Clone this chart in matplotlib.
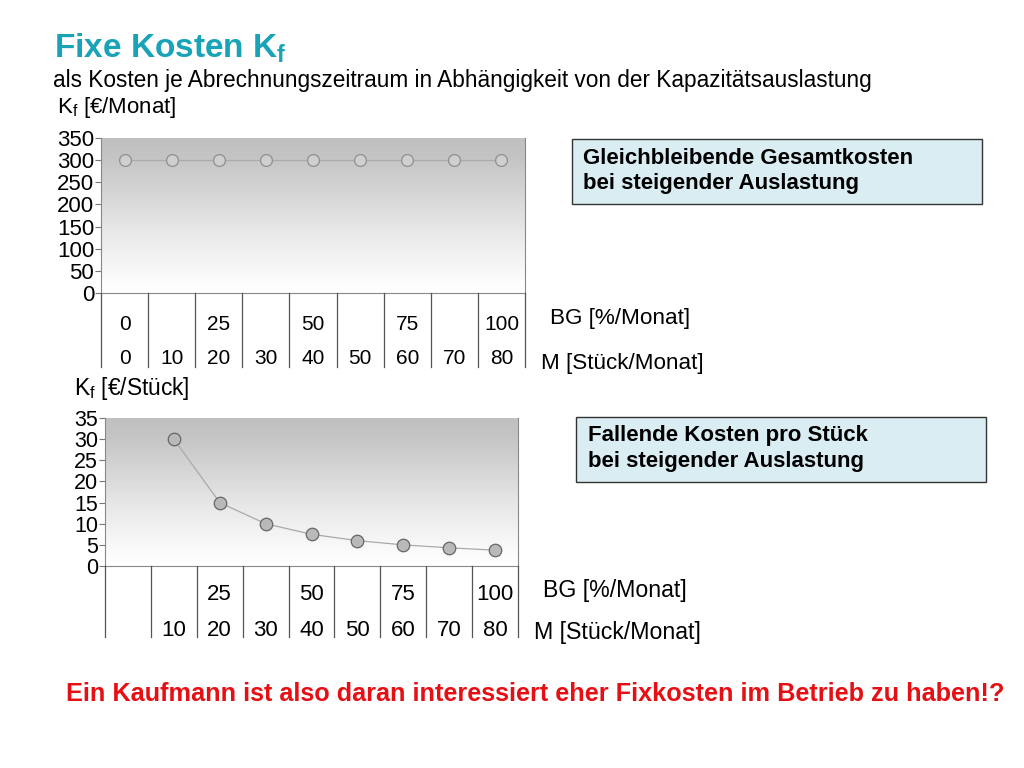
import numpy as np
import matplotlib
matplotlib.use("Agg")
import matplotlib.pyplot as plt
from matplotlib.colors import LinearSegmentedColormap
from matplotlib.patches import Rectangle
import matplotlib.transforms as mtransforms

plt.rcParams['font.family'] = ['Liberation Sans', 'DejaVu Sans']
plt.rcParams['mathtext.fontset'] = 'custom'
plt.rcParams['mathtext.rm'] = 'Liberation Sans'
plt.rcParams['mathtext.bf'] = 'Liberation Sans:bold'
plt.rcParams['mathtext.it'] = 'Liberation Sans:italic'

# ---------------- data ----------------
menge = [0, 10, 20, 30, 40, 50, 60, 70, 80]                   # M [Stück/Monat]
bg_labels_top = ['0', '', '25', '', '50', '', '75', '', '100']  # BG [%/Monat]
m_labels_top = ['0', '10', '20', '30', '40', '50', '60', '70', '80']
bg_labels_bot = ['', '', '25', '', '50', '', '75', '', '100']
m_labels_bot = ['', '10', '20', '30', '40', '50', '60', '70', '80']
kf_gesamt = [300, 300, 300, 300, 300, 300, 300, 300, 300]       # Kf [€/Monat]
kf_stueck = [np.nan, 30, 15, 10, 7.5, 6, 5, 4.3, 3.75]          # Kf [€/Stück]
yticks_top = [0, 50, 100, 150, 200, 250, 300, 350]
yticks_bot = [0, 5, 10, 15, 20, 25, 30, 35]

W, H = 1024, 768
fig = plt.figure(figsize=(W / 100, H / 100), dpi=100)
fig.patch.set_facecolor('white')


def fx(x):
    return x / W


def fy(y):
    return 1 - y / H


def px_axes(l, t, r, b):
    return fig.add_axes([l / W, 1 - b / H, (r - l) / W, (b - t) / H])


grad = LinearSegmentedColormap.from_list(
    'g', [(0, '#c0c0c0'), (0.12, '#c4c4c4'), (0.6, '#e8e8e8'), (0.92, '#fcfcfc'), (1, '#ffffff')])


def make_chart(ax, vals, ymax, yticks, bg_labels, m_labels, y_bg, y_m, y_line,
               fs, tfs, mface, medge, msize, lcol):
    n = len(menge)
    x = np.arange(n)
    ax.set_xlim(-0.5, n - 0.5)
    ax.set_ylim(0, ymax)
    ax.imshow(np.linspace(0, 1, 256).reshape(-1, 1), cmap=grad, aspect='auto',
              extent=(-0.5, n - 0.5, 0, ymax), origin='upper', zorder=0)
    ax.plot(x, vals, color=lcol, lw=0.9, zorder=2, marker='o', markersize=msize,
            markerfacecolor=mface, markeredgecolor=medge, markeredgewidth=0.9)
    ax.set_xticks([])
    ax.set_yticks(yticks)
    ax.set_yticklabels([str(t) for t in yticks], fontsize=tfs)
    ax.tick_params(axis='y', length=4, width=0.8, color='#777777', pad=1)
    ax.spines['top'].set_visible(False)
    for s in ['left', 'right', 'bottom']:
        ax.spines[s].set_color('#888888')
        ax.spines[s].set_linewidth(0.8)
    trans = mtransforms.blended_transform_factory(ax.transData, ax.transAxes)
    for b in np.arange(-0.5, n, 1.0):
        ax.plot([b, b], [0, y_line], color='#555555', lw=0.9, transform=trans,
                clip_on=False, zorder=3)
    for i in range(n):
        ax.text(x[i], y_bg, bg_labels[i], transform=trans, ha='center', va='center', fontsize=fs)
        ax.text(x[i], y_m, m_labels[i], transform=trans, ha='center', va='center', fontsize=fs)


# top chart
ax1 = px_axes(101, 138, 525, 293)
make_chart(ax1, kf_gesamt, 350, yticks_top, bg_labels_top, m_labels_top,
           -(324 - 293) / 155, -(358 - 293) / 155, -(367 - 293) / 155,
           15, 16, '#cfcfcf', '#8f8f8f', 8.5, '#aaaaaa')

# bottom chart
ax2 = px_axes(105, 418, 518, 566)
make_chart(ax2, kf_stueck, 35, yticks_bot, bg_labels_bot, m_labels_bot,
           -(595 - 566) / 148, -(630 - 566) / 148, -(637 - 566) / 148,
           16, 15.5, '#b9b9b9', '#666666', 9, '#aaaaaa')

# titles and labels
fig.text(fx(54), fy(48), r'Fixe Kosten K$_\mathbf{f}$', fontsize=24, fontweight='bold',
         color='#19a3b7', ha='left', va='center')
fig.text(fx(53), fy(80), 'als Kosten je Abrechnungszeitraum in Abhängigkeit von der Kapazitätsauslastung',
         fontsize=16.3, ha='left', va='center')
fig.text(fx(57), fy(107), r'K$_\mathrm{f}$ [€/Monat]', fontsize=16, ha='left', va='center')
fig.text(fx(74), fy(389), r'K$_\mathrm{f}$ [€/Stück]', fontsize=16.4, ha='left', va='center')

fig.text(fx(550), fy(319), 'BG [%/Monat]', fontsize=16.2, ha='left', va='center')
fig.text(fx(541), fy(364), 'M [Stück/Monat]', fontsize=16.1, ha='left', va='center')
fig.text(fx(543), fy(591), 'BG [%/Monat]', fontsize=16.7, ha='left', va='center')
fig.text(fx(534), fy(633), 'M [Stück/Monat]', fontsize=16.7, ha='left', va='center')

# info boxes
for (l, t, r, b, txt, tx) in [
        (572, 139, 982, 204, 'Gleichbleibende Gesamtkosten\nbei steigender Auslastung', 583),
        (576, 417, 986, 482, 'Fallende Kosten pro Stück\nbei steigender Auslastung', 588)]:
    fig.add_artist(Rectangle((fx(l), fy(b)), (r - l) / W, (b - t) / H, transform=fig.transFigure,
                             facecolor='#daedf2', edgecolor='#333333', lw=1.0))
    fig.text(fx(tx), fy((t + b) / 2 - 1), txt, fontsize=16, fontweight='bold',
             ha='left', va='center', linespacing=1.25)

fig.text(fx(535), fy(694),
         'Ein Kaufmann ist also daran interessiert eher Fixkosten im Betrieb zu haben!?',
         fontsize=18.2, fontweight='bold', color='#e60f14', ha='center', va='center')

fig.savefig('out.png', dpi=100)
